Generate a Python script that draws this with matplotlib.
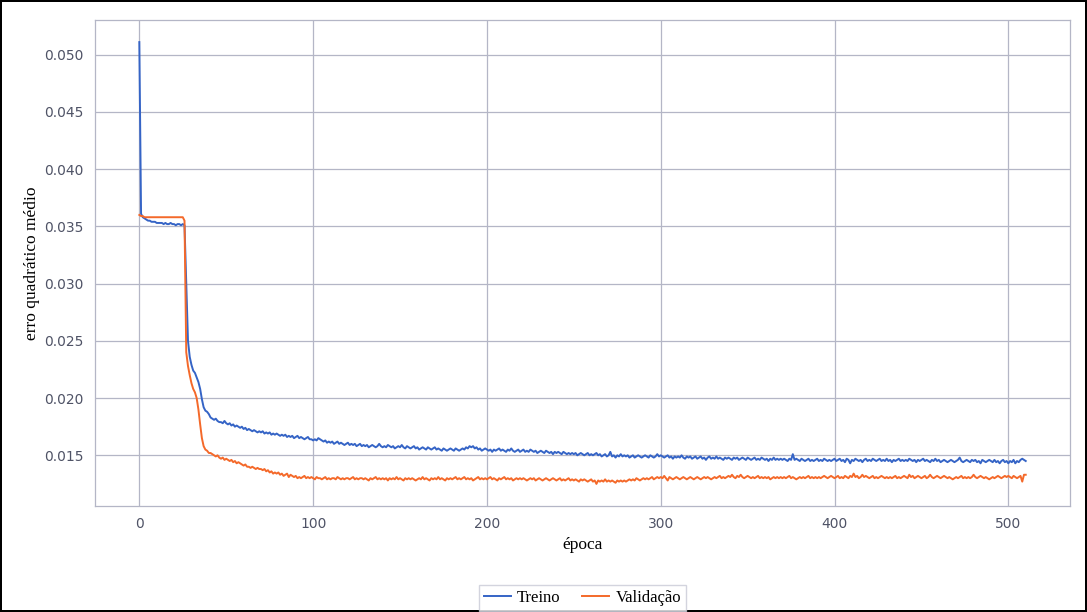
import numpy as np
import matplotlib.pyplot as plt

# erro quadrático médio por época
treino = [
    0.0511, 0.0361, 0.0358, 0.0357, 0.0356, 0.0355, 0.0355, 0.0354, 0.0354, 0.0354,
    0.0353, 0.0353, 0.0353, 0.0353, 0.0352, 0.0353, 0.0352, 0.0352, 0.0353, 0.0352,
    0.0352, 0.0351, 0.0352, 0.0352, 0.0351, 0.0352, 0.0351, 0.0300, 0.0250, 0.0236,
    0.0229, 0.0224, 0.0222, 0.0218, 0.0214, 0.0208, 0.0199, 0.0192, 0.0189, 0.0188,
    0.0186, 0.0183, 0.0182, 0.0181, 0.0182, 0.0180, 0.0179, 0.0179, 0.0178, 0.0180,
    0.0178, 0.0177, 0.0178, 0.0176, 0.0177, 0.0175, 0.0176, 0.0175, 0.0174, 0.0175,
    0.0173, 0.0174, 0.0172, 0.0173, 0.0172, 0.0171, 0.0172, 0.0171, 0.0170, 0.0171,
    0.0170, 0.0171, 0.0169, 0.0170, 0.0169, 0.0170, 0.0168, 0.0169, 0.0168, 0.0169,
    0.0168, 0.0167, 0.0168, 0.0167, 0.0168, 0.0166, 0.0167, 0.0166, 0.0167, 0.0165,
    0.0166, 0.0167, 0.0165, 0.0166, 0.0165, 0.0164, 0.0165, 0.0166, 0.0164, 0.0164,
    0.0163, 0.0164, 0.0163, 0.0165, 0.0164, 0.0163, 0.0162, 0.0163, 0.0161, 0.0162,
    0.0161, 0.0162, 0.0160, 0.0161, 0.0162, 0.0160, 0.0161, 0.0160, 0.0159, 0.0160,
    0.0161, 0.0159, 0.0160, 0.0159, 0.0160, 0.0158, 0.0159, 0.0160, 0.0158, 0.0159,
    0.0158, 0.0159, 0.0157, 0.0158, 0.0159, 0.0158, 0.0157, 0.0158, 0.0160, 0.0158,
    0.0157, 0.0158, 0.0157, 0.0159, 0.0158, 0.0157, 0.0158, 0.0156, 0.0157, 0.0158,
    0.0157, 0.0159, 0.0157, 0.0156, 0.0158, 0.0157, 0.0156, 0.0157, 0.0158, 0.0156,
    0.0157, 0.0155, 0.0156, 0.0157, 0.0156, 0.0155, 0.0157, 0.0156, 0.0155, 0.0156,
    0.0157, 0.0155, 0.0156, 0.0155, 0.0154, 0.0156, 0.0155, 0.0154, 0.0155, 0.0156,
    0.0155, 0.0154, 0.0156, 0.0155, 0.0154, 0.0155, 0.0156, 0.0155, 0.0157, 0.0156,
    0.0158, 0.0157, 0.0158, 0.0156, 0.0157, 0.0155, 0.0156, 0.0154, 0.0155, 0.0156,
    0.0155, 0.0154, 0.0155, 0.0153, 0.0155, 0.0154, 0.0155, 0.0156, 0.0154, 0.0155,
    0.0154, 0.0153, 0.0155, 0.0154, 0.0156, 0.0154, 0.0153, 0.0154, 0.0155, 0.0153,
    0.0154, 0.0155, 0.0153, 0.0154, 0.0153, 0.0155, 0.0154, 0.0153, 0.0154, 0.0152,
    0.0153, 0.0154, 0.0153, 0.0152, 0.0154, 0.0153, 0.0152, 0.0153, 0.0151, 0.0153,
    0.0152, 0.0153, 0.0152, 0.0151, 0.0153, 0.0152, 0.0151, 0.0152, 0.0151, 0.0152,
    0.0151, 0.0152, 0.0150, 0.0151, 0.0152, 0.0151, 0.0150, 0.0151, 0.0152, 0.0150,
    0.0151, 0.0150, 0.0151, 0.0152, 0.0150, 0.0151, 0.0149, 0.0150, 0.0151, 0.0149,
    0.0150, 0.0153, 0.0149, 0.0150, 0.0148, 0.0150, 0.0149, 0.0151, 0.0149, 0.0150,
    0.0149, 0.0150, 0.0148, 0.0149, 0.0150, 0.0148, 0.0149, 0.0150, 0.0149, 0.0148,
    0.0149, 0.0150, 0.0149, 0.0148, 0.0150, 0.0149, 0.0148, 0.0149, 0.0151, 0.0149,
    0.0150, 0.0149, 0.0148, 0.0149, 0.0150, 0.0148, 0.0149, 0.0147, 0.0149, 0.0148,
    0.0149, 0.0148, 0.0150, 0.0148, 0.0147, 0.0149, 0.0148, 0.0149, 0.0147, 0.0148,
    0.0149, 0.0147, 0.0148, 0.0149, 0.0147, 0.0148, 0.0146, 0.0148, 0.0149, 0.0147,
    0.0148, 0.0147, 0.0149, 0.0147, 0.0148, 0.0147, 0.0146, 0.0148, 0.0147, 0.0148,
    0.0147, 0.0146, 0.0148, 0.0147, 0.0148, 0.0146, 0.0147, 0.0148, 0.0147, 0.0146,
    0.0148, 0.0147, 0.0146, 0.0147, 0.0148, 0.0146, 0.0147, 0.0146, 0.0148, 0.0147,
    0.0146, 0.0147, 0.0145, 0.0147, 0.0146, 0.0148, 0.0146, 0.0147, 0.0146, 0.0147,
    0.0146, 0.0147, 0.0146, 0.0145, 0.0147, 0.0146, 0.0151, 0.0146, 0.0147, 0.0146,
    0.0145, 0.0147, 0.0146, 0.0145, 0.0146, 0.0147, 0.0145, 0.0146, 0.0145, 0.0146,
    0.0147, 0.0145, 0.0146, 0.0145, 0.0147, 0.0146, 0.0145, 0.0146, 0.0145, 0.0146,
    0.0147, 0.0145, 0.0146, 0.0147, 0.0145, 0.0146, 0.0144, 0.0147, 0.0146, 0.0143,
    0.0146, 0.0145, 0.0147, 0.0146, 0.0145, 0.0146, 0.0144, 0.0146, 0.0147, 0.0145,
    0.0146, 0.0145, 0.0147, 0.0146, 0.0145, 0.0146, 0.0147, 0.0145, 0.0146, 0.0145,
    0.0147, 0.0145, 0.0146, 0.0144, 0.0146, 0.0145, 0.0146, 0.0147, 0.0145, 0.0146,
    0.0145, 0.0146, 0.0145, 0.0147, 0.0146, 0.0145, 0.0146, 0.0144, 0.0146, 0.0145,
    0.0146, 0.0147, 0.0145, 0.0146, 0.0145, 0.0144, 0.0146, 0.0145, 0.0147, 0.0145,
    0.0146, 0.0144, 0.0145, 0.0146, 0.0145, 0.0144, 0.0145, 0.0146, 0.0145, 0.0144,
    0.0145, 0.0146, 0.0148, 0.0145, 0.0144, 0.0145, 0.0146, 0.0145, 0.0144, 0.0146,
    0.0145, 0.0146, 0.0144, 0.0145, 0.0143, 0.0146, 0.0145, 0.0144, 0.0145, 0.0146,
    0.0145, 0.0144, 0.0146, 0.0144, 0.0145, 0.0143, 0.0145, 0.0146, 0.0144, 0.0145,
    0.0143, 0.0145, 0.0144, 0.0146, 0.0143, 0.0145, 0.0144, 0.0146, 0.0147, 0.0146,
    0.0145,
]

validacao = [
    0.0360, 0.0359, 0.0359, 0.0358, 0.0358, 0.0358, 0.0358, 0.0358, 0.0358, 0.0358,
    0.0358, 0.0358, 0.0358, 0.0358, 0.0358, 0.0358, 0.0358, 0.0358, 0.0358, 0.0358,
    0.0358, 0.0358, 0.0358, 0.0358, 0.0358, 0.0358, 0.0355, 0.0240, 0.0228, 0.0220,
    0.0213, 0.0208, 0.0205, 0.0200, 0.0190, 0.0177, 0.0165, 0.0158, 0.0155, 0.0154,
    0.0152, 0.0152, 0.0151, 0.0150, 0.0149, 0.0150, 0.0148, 0.0147, 0.0148, 0.0146,
    0.0147, 0.0146, 0.0145, 0.0146, 0.0144, 0.0145, 0.0143, 0.0144, 0.0143, 0.0142,
    0.0141, 0.0142, 0.0140, 0.0140, 0.0139, 0.0140, 0.0139, 0.0138, 0.0139, 0.0138,
    0.0138, 0.0137, 0.0138, 0.0136, 0.0137, 0.0135, 0.0136, 0.0134, 0.0135, 0.0134,
    0.0135, 0.0133, 0.0134, 0.0132, 0.0133, 0.0134, 0.0131, 0.0133, 0.0132, 0.0131,
    0.0132, 0.0130, 0.0131, 0.0130, 0.0131, 0.0132, 0.0130, 0.0131, 0.0130, 0.0131,
    0.0130, 0.0129, 0.0131, 0.0130, 0.0130, 0.0129, 0.0130, 0.0131, 0.0129, 0.0130,
    0.0129, 0.0130, 0.0130, 0.0129, 0.0131, 0.0130, 0.0129, 0.0130, 0.0129, 0.0130,
    0.0130, 0.0129, 0.0130, 0.0131, 0.0129, 0.0130, 0.0129, 0.0130, 0.0130, 0.0129,
    0.0130, 0.0129, 0.0128, 0.0130, 0.0129, 0.0130, 0.0131, 0.0129, 0.0130, 0.0129,
    0.0130, 0.0129, 0.0130, 0.0128, 0.0130, 0.0129, 0.0130, 0.0129, 0.0131, 0.0129,
    0.0130, 0.0129, 0.0128, 0.0130, 0.0129, 0.0130, 0.0129, 0.0130, 0.0129, 0.0128,
    0.0129, 0.0130, 0.0129, 0.0131, 0.0129, 0.0130, 0.0129, 0.0128, 0.0130, 0.0129,
    0.0130, 0.0129, 0.0131, 0.0129, 0.0130, 0.0129, 0.0128, 0.0130, 0.0129, 0.0130,
    0.0129, 0.0130, 0.0131, 0.0129, 0.0130, 0.0129, 0.0130, 0.0131, 0.0129, 0.0130,
    0.0129, 0.0130, 0.0128, 0.0129, 0.0130, 0.0131, 0.0129, 0.0130, 0.0129, 0.0130,
    0.0129, 0.0130, 0.0131, 0.0129, 0.0130, 0.0129, 0.0128, 0.0130, 0.0129, 0.0130,
    0.0131, 0.0129, 0.0130, 0.0129, 0.0130, 0.0128, 0.0129, 0.0130, 0.0129, 0.0130,
    0.0129, 0.0130, 0.0129, 0.0128, 0.0129, 0.0130, 0.0129, 0.0130, 0.0128, 0.0129,
    0.0130, 0.0129, 0.0128, 0.0129, 0.0130, 0.0129, 0.0128, 0.0129, 0.0130, 0.0129,
    0.0128, 0.0129, 0.0130, 0.0128, 0.0129, 0.0128, 0.0129, 0.0130, 0.0128, 0.0129,
    0.0128, 0.0129, 0.0128, 0.0127, 0.0129, 0.0128, 0.0129, 0.0128, 0.0127, 0.0128,
    0.0129, 0.0127, 0.0128, 0.0125, 0.0128, 0.0127, 0.0128, 0.0127, 0.0129, 0.0127,
    0.0128, 0.0127, 0.0128, 0.0127, 0.0126, 0.0128, 0.0127, 0.0128, 0.0127, 0.0128,
    0.0127, 0.0128, 0.0129, 0.0128, 0.0129, 0.0128, 0.0130, 0.0129, 0.0128, 0.0129,
    0.0130, 0.0129, 0.0130, 0.0129, 0.0130, 0.0131, 0.0129, 0.0130, 0.0131, 0.0130,
    0.0131, 0.0130, 0.0132, 0.0130, 0.0128, 0.0131, 0.0130, 0.0129, 0.0130, 0.0131,
    0.0130, 0.0129, 0.0130, 0.0131, 0.0130, 0.0129, 0.0130, 0.0131, 0.0130, 0.0129,
    0.0130, 0.0131, 0.0130, 0.0129, 0.0130, 0.0131, 0.0130, 0.0131, 0.0130, 0.0129,
    0.0130, 0.0131, 0.0130, 0.0131, 0.0132, 0.0130, 0.0131, 0.0130, 0.0131, 0.0132,
    0.0131, 0.0133, 0.0131, 0.0130, 0.0132, 0.0131, 0.0133, 0.0131, 0.0130, 0.0131,
    0.0132, 0.0131, 0.0130, 0.0131, 0.0130, 0.0131, 0.0132, 0.0130, 0.0131, 0.0130,
    0.0131, 0.0130, 0.0131, 0.0129, 0.0130, 0.0131, 0.0130, 0.0131, 0.0130, 0.0131,
    0.0130, 0.0131, 0.0130, 0.0131, 0.0132, 0.0130, 0.0131, 0.0130, 0.0129, 0.0130,
    0.0131, 0.0130, 0.0131, 0.0130, 0.0131, 0.0132, 0.0130, 0.0131, 0.0130, 0.0131,
    0.0130, 0.0131, 0.0130, 0.0131, 0.0132, 0.0131, 0.0130, 0.0131, 0.0132, 0.0131,
    0.0130, 0.0131, 0.0132, 0.0130, 0.0131, 0.0130, 0.0132, 0.0131, 0.0130, 0.0132,
    0.0131, 0.0134, 0.0131, 0.0132, 0.0130, 0.0131, 0.0133, 0.0131, 0.0132, 0.0131,
    0.0130, 0.0131, 0.0132, 0.0130, 0.0131, 0.0130, 0.0131, 0.0132, 0.0131, 0.0130,
    0.0131, 0.0130, 0.0131, 0.0130, 0.0131, 0.0132, 0.0130, 0.0131, 0.0130, 0.0131,
    0.0132, 0.0131, 0.0130, 0.0133, 0.0131, 0.0132, 0.0130, 0.0131, 0.0132, 0.0131,
    0.0130, 0.0131, 0.0132, 0.0130, 0.0131, 0.0133, 0.0131, 0.0130, 0.0131, 0.0132,
    0.0131, 0.0130, 0.0131, 0.0132, 0.0131, 0.0130, 0.0131, 0.0130, 0.0129, 0.0130,
    0.0131, 0.0130, 0.0131, 0.0132, 0.0130, 0.0131, 0.0130, 0.0131, 0.0130, 0.0131,
    0.0133, 0.0131, 0.0130, 0.0131, 0.0132, 0.0131, 0.0130, 0.0131, 0.0130, 0.0129,
    0.0130, 0.0131, 0.0130, 0.0131, 0.0132, 0.0131, 0.0130, 0.0131, 0.0132, 0.0131,
    0.0132, 0.0131, 0.0130, 0.0132, 0.0131, 0.0130, 0.0131, 0.0132, 0.0127, 0.0133,
    0.0133,
]

epocas = np.arange(len(treino))

cor_grade = '#b4b6c6'

fig = plt.figure(figsize=(10.87, 6.12), dpi=100)
fig.patch.set_edgecolor('black')
fig.patch.set_linewidth(1.5)
ax = fig.add_axes([0.0874, 0.1732, 0.8970, 0.7941])

ax.plot(epocas, treino, color='#3564c6', linewidth=1.4, label='Treino')
ax.plot(epocas, validacao, color='#f4692a', linewidth=1.4, label='Validação')

ax.grid(True, color=cor_grade, linewidth=0.9)
ax.set_axisbelow(True)
for s in ax.spines.values():
    s.set_color(cor_grade)
    s.set_linewidth(0.9)
ax.tick_params(length=0, pad=8, labelsize=10, labelcolor='#4f5366')
ax.yaxis.set_major_formatter(plt.FormatStrFormatter('%.3f'))

serif = ['Liberation Serif', 'DejaVu Serif']
ax.set_xlabel('época', family=serif, fontsize=12.5, labelpad=4)
ax.set_ylabel('erro quadrático médio', family=serif, fontsize=12.5, labelpad=3)

fig.legend(loc='upper center', bbox_to_anchor=(0.536, 0.052), ncol=2,
           prop={'family': serif, 'size': 12}, frameon=True, fancybox=False,
           edgecolor='#c8cad6', handlelength=1.6, handletextpad=0.4,
           columnspacing=1.3, borderpad=0.3, borderaxespad=0.3)

fig.savefig('out.png', dpi=100, edgecolor=fig.get_edgecolor())
